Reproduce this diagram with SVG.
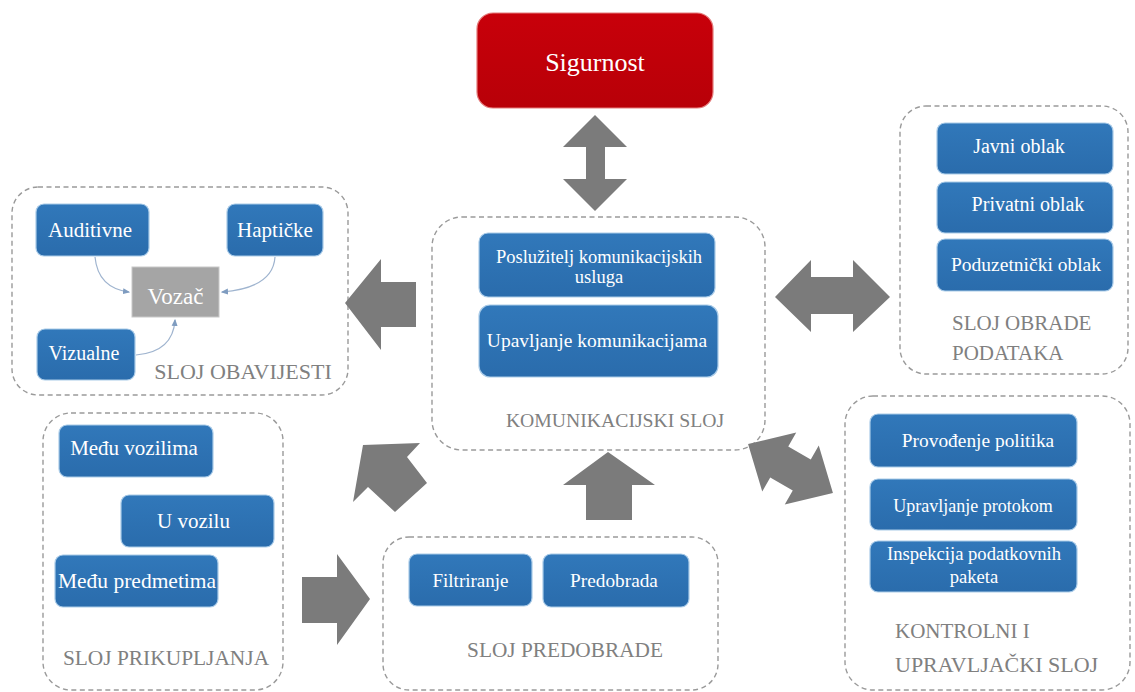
<svg xmlns="http://www.w3.org/2000/svg" width="1135" height="692" viewBox="0 0 1135 692" font-family="Liberation Serif, DejaVu Serif, serif">
<defs>
<linearGradient id="gBlue" x1="0" y1="0" x2="0" y2="1">
<stop offset="0" stop-color="#3178ba"/><stop offset="1" stop-color="#2a6cac"/>
</linearGradient>
<linearGradient id="gRed" x1="0" y1="0" x2="0" y2="1">
<stop offset="0" stop-color="#c8000a"/><stop offset="1" stop-color="#b80008"/>
</linearGradient>
<marker id="mh" viewBox="0 0 6 6" refX="5" refY="3" markerWidth="6" markerHeight="6" orient="auto">
<path d="M0,0.5 L6,3 L0,5.5 z" fill="#7f9cc0"/>
</marker>
<style>
.layer{fill:#ffffff;stroke:#9a9a9a;stroke-width:1.4;stroke-dasharray:5 3.5}
.box{fill:url(#gBlue);stroke:#a9cbe8;stroke-width:1.2}
.bt{fill:#ffffff;text-anchor:middle}
.lbl{fill:#808080}
.arr{fill:#7b7b7b}
.cv{fill:none;stroke:#9fb4cf;stroke-width:1.2;marker-end:url(#mh)}
</style>
</defs>
<rect width="1135" height="692" fill="#ffffff"/>

<g id="sigurnost">
<rect x="477" y="13" width="236" height="95" rx="16" fill="url(#gRed)" stroke="#e47a7a" stroke-width="1.2"/>
<text class="bt" x="595" y="71" font-size="26" font-family="Liberation Serif, serif">Sigurnost</text>
</g>

<g id="sloj-obavijesti" font-family="Liberation Serif, serif">
<rect class="layer" x="12" y="187" width="336" height="208" rx="26"/>
<g id="auditivne"><rect class="box" x="36" y="204" width="113" height="52" rx="8"/><text class="bt" x="90" y="237" font-size="21">Auditivne</text></g>
<g id="hapticke"><rect class="box" x="227" y="204" width="96" height="52" rx="8"/><text class="bt" x="275" y="237" font-size="21">Haptičke</text></g>
<g id="vozac"><rect x="132" y="267" width="87" height="50" fill="#a5a5a5" stroke="#c8c8c8" stroke-width="1"/><text class="bt" x="175.5" y="304" font-size="23">Vozač</text></g>
<g id="vizualne"><rect class="box" x="37" y="329" width="98" height="51" rx="8"/><text class="bt" x="84" y="360" font-size="20">Vizualne</text></g>
<text class="lbl" x="243" y="379" font-size="22" text-anchor="middle">SLOJ OBAVIJESTI</text>
</g>

<g id="komunikacijski-sloj" font-family="Liberation Serif, serif">
<rect class="layer" x="432" y="217" width="333" height="233" rx="30"/>
<g id="posluzitelj"><rect class="box" x="479" y="233" width="236" height="64" rx="9"/><text class="bt" x="599" y="263" font-size="18.5">Poslužitelj komunikacijskih</text><text class="bt" x="599" y="283" font-size="18.5">usluga</text></g>
<g id="upravljanje-kom"><rect class="box" x="479" y="305" width="239" height="72" rx="11"/><text class="bt" x="597" y="347" font-size="19.5">Upavljanje komunikacijama</text></g>
<text class="lbl" x="615" y="427" font-size="19.7" text-anchor="middle">KOMUNIKACIJSKI SLOJ</text>
</g>

<g id="sloj-obrade-podataka" font-family="Liberation Serif, serif">
<rect class="layer" x="900" y="106" width="228" height="268" rx="26"/>
<g id="javni"><rect class="box" x="937" y="123" width="176" height="51" rx="8"/><text class="bt" x="1019" y="153" font-size="20">Javni oblak</text></g>
<g id="privatni"><rect class="box" x="937" y="182" width="176" height="51" rx="8"/><text class="bt" x="1028" y="211" font-size="20">Privatni oblak</text></g>
<g id="poduzetnicki"><rect class="box" x="937" y="239" width="176" height="52" rx="8"/><text class="bt" x="1026" y="271" font-size="19.5">Poduzetnički oblak</text></g>
<text class="lbl" x="952" y="330" font-size="21">SLOJ OBRADE</text>
<text class="lbl" x="952" y="360" font-size="21">PODATAKA</text>
</g>

<g id="kontrolni-sloj" font-family="Liberation Serif, serif">
<rect class="layer" x="845" y="396" width="285" height="294" rx="28"/>
<g id="provodenje"><rect class="box" x="870" y="414" width="207" height="53" rx="8"/><text class="bt" x="978" y="447" font-size="19.4">Provođenje politika</text></g>
<g id="protokom"><rect class="box" x="870" y="479" width="207" height="51" rx="8"/><text class="bt" x="973" y="512" font-size="18">Upravljanje protokom</text></g>
<g id="inspekcija"><rect class="box" x="870" y="541" width="207" height="51" rx="8"/><text class="bt" x="974" y="560" font-size="18.6">Inspekcija podatkovnih</text><text class="bt" x="974" y="583" font-size="18.6">paketa</text></g>
<text class="lbl" x="895" y="638" font-size="21">KONTROLNI I</text>
<text class="lbl" x="895" y="672" font-size="22">UPRAVLJAČKI SLOJ</text>
</g>

<g id="sloj-prikupljanja" font-family="Liberation Serif, serif">
<rect class="layer" x="43" y="413" width="240" height="277" rx="28"/>
<g id="medu-vozilima"><rect class="box" x="59" y="425" width="154" height="52" rx="8"/><text class="bt" x="134" y="455" font-size="21">Među vozilima</text></g>
<g id="u-vozilu"><rect class="box" x="121" y="495" width="153" height="52" rx="8"/><text class="bt" x="193.5" y="528" font-size="21">U vozilu</text></g>
<g id="medu-predmetima"><rect class="box" x="55" y="555" width="163" height="52" rx="8"/><text class="bt" x="137" y="588" font-size="21.5">Među predmetima</text></g>
<text class="lbl" x="166" y="665" font-size="21.4" text-anchor="middle">SLOJ PRIKUPLJANJA</text>
</g>

<g id="sloj-predobrade" font-family="Liberation Serif, serif">
<rect class="layer" x="383" y="537" width="335" height="153" rx="26"/>
<g id="filtriranje"><rect class="box" x="409" y="554" width="123" height="52" rx="8"/><text class="bt" x="470.5" y="587" font-size="19">Filtriranje</text></g>
<g id="predobrada"><rect class="box" x="543" y="554" width="146" height="53" rx="8"/><text class="bt" x="614" y="587" font-size="19.3">Predobrada</text></g>
<text class="lbl" x="565" y="657" font-size="21.3" text-anchor="middle">SLOJ PREDOBRADE</text>
</g>

<g id="connectors">
<path class="cv" d="M95,257 Q98,288 129,292"/>
<path class="cv" d="M275,257 Q273,288 222,292"/>
<path class="cv" d="M136,355 Q173,352 175,320"/>
<polygon class="arr" points="595,115 627,147 605,147 605,179 627,179 595,211 563,179 586,179 586,147 563,147"/>
<polygon class="arr" points="345,303 381,259 381,282 416,282 416,327 381,327 381,350"/>
<polygon class="arr" points="775,297 811,260 811,277 853,277 853,260 890,297 853,332 853,314 811,314 811,332"/>
<polygon class="arr" transform="translate(790.5,468.5) rotate(30)" points="-49,0 -13,-34 -13,-18 13,-18 13,-34 49,0 13,34 13,18 -13,18 -13,34"/>
<polygon class="arr" points="363,445 420,443 407,457 427,483 395,512 368,487 353,502"/>
<polygon class="arr" points="302,577 337,577 337,554 370,599 337,645 337,623 302,623"/>
<polygon class="arr" points="608,452 655,485 632,485 632,520 586,520 586,485 563,485"/>
</g>
</svg>
